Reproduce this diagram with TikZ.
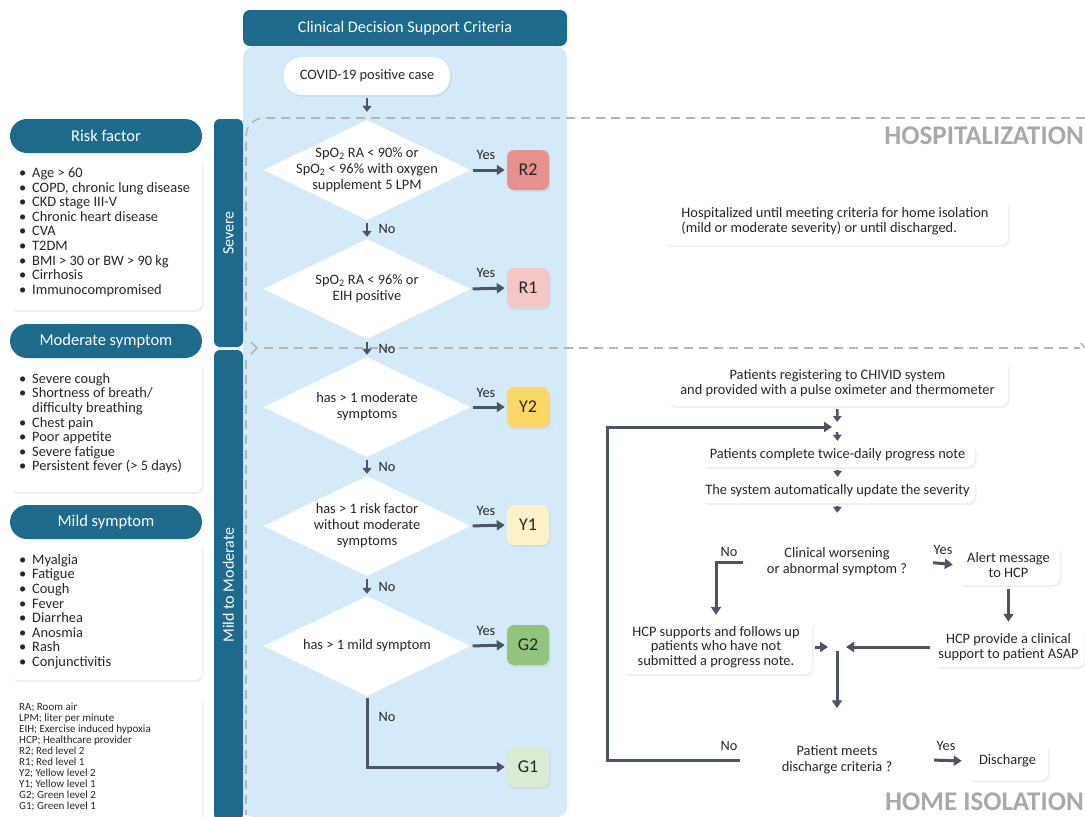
\documentclass[tikz,border=0pt]{standalone}
\usepackage{fontspec}
\setmainfont{Carlito}
\usetikzlibrary{arrows.meta,shapes.geometric,shadows,calc}
\definecolor{hdr}{HTML}{1D6A8D}
\definecolor{panel}{HTML}{D5EAF9}
\definecolor{arr}{HTML}{4B5563}
\definecolor{txt}{HTML}{262626}
\definecolor{dgray}{HTML}{A9A9A9}
\definecolor{dline}{HTML}{B5B5B5}
\definecolor{rtwo}{HTML}{E8908E}
\definecolor{rone}{HTML}{F4C7C6}
\definecolor{ytwo}{HTML}{FDD766}
\definecolor{yone}{HTML}{FEF1C9}
\definecolor{gtwo}{HTML}{92C47E}
\definecolor{gone}{HTML}{DAEAD3}
\newcommand{\bl}{\makebox[13pt][l]{\textbullet}}
\newcommand{\bi}{\makebox[13pt][l]{}}
\begin{document}
\begin{tikzpicture}[x=1pt,y=-1pt,
  font=\fontsize{14.4}{14.6}\selectfont, text=txt,
  shad/.style={drop shadow={opacity=0.13,shadow xshift=1.5pt,shadow yshift=-2pt}},
  wbox/.style={fill=white, rounded corners=8pt, shad, align=center, inner sep=0pt},
  pill/.style={fill=hdr, rounded corners=17pt, text=white, font=\fontsize{16.5}{19}\selectfont, minimum width=192pt, minimum height=34pt, inner sep=0pt},
  bar/.style={fill=hdr, rounded corners=6pt, minimum width=29pt, inner sep=0pt},
  bartxt/.style={rotate=90, text=white, font=\fontsize{16}{19}\selectfont},
  lvl/.style={rounded corners=7pt, shad, minimum width=42pt, minimum height=40pt, inner sep=0pt, font=\fontsize{18}{21}\selectfont},
  dia/.style={diamond, fill=white, minimum width=207pt, minimum height=100pt, inner sep=0pt},
  diatxt/.style={align=center, font=\fontsize{14.4}{16}\selectfont},
  flow/.style={draw=arr, line width=3pt, -{Triangle[length=8pt,width=10pt]}},
  sarr/.style={draw=arr, line width=2.6pt, -{Triangle[length=6pt,width=9pt]}},
  tarr/.style={draw=arr, line width=2.5pt, -{Triangle[length=6pt,width=8.5pt]}},
  lbl/.style={font=\fontsize{14.3}{16}\selectfont},
  dashln/.style={draw=dline, line width=1.6pt, dash pattern=on 9pt off 6pt},
  big/.style={text=dgray, font=\bfseries\fontsize{27}{32}\selectfont, anchor=east, inner sep=0pt}
]
\useasboundingbox (0,0) rectangle (1085,817);
\fill[white] (0,0) rectangle (1085,817);

% ---------- central panel ----------
\node[fill=panel, rounded corners=10pt, minimum width=324pt, minimum height=770pt, inner sep=0pt] (pnl) at (405,432) {};
\node[fill=hdr, rounded corners=7pt, minimum width=324pt, minimum height=36pt, inner sep=0pt, text=white, font=\fontsize{16.2}{19}\selectfont] (title) at (405,28) {Clinical Decision Support Criteria};

% ---------- dashed region outlines ----------
\draw[dashln] (1085,118) -- (264,118) to[out=180,in=90] (246,136) -- (246,336);
\draw[dashln] (246,360) -- (246,815);
\draw[draw=dline, line width=1.6pt] (251,342) -- (257,348) -- (251,354);
\draw[dashln] (264,348) -- (1080,348);
\draw[draw=dline, line width=1.6pt] (1081,343) -- (1085,348);

% ---------- side bars ----------
\node[bar, minimum height=228pt] (sev) at (228.5,233) {};
\node[bartxt] at (sev) {Severe};
\node[bar, minimum height=470pt] (mtm) at (228.5,585) {};
\node[bartxt] at (mtm) {Mild to Moderate};

% ---------- left column ----------
\node[pill] (rf) at (106,136) {Risk factor};
\node[wbox, minimum width=192pt, minimum height=154pt, anchor=north west] (rfl) at (10,156) {};
\node[anchor=north west, align=left, inner sep=0pt] at (19,167.5) {\bl Age > 60\\ \bl COPD, chronic lung disease\\ \bl CKD stage III-V\\ \bl Chronic heart disease\\ \bl CVA\\ \bl T2DM\\ \bl BMI > 30 or BW > 90 kg\\ \bl Cirrhosis\\ \bl Immunocompromised};

\node[pill] (ms) at (106,341) {Moderate symptom};
\node[wbox, minimum width=192pt, minimum height=132pt, anchor=north west] (msl) at (10,360) {};
\node[anchor=north west, align=left, inner sep=0pt] at (19,373) {\bl Severe cough\\ \bl Shortness of breath/\\ \bi difficulty breathing\\ \bl Chest pain\\ \bl Poor appetite\\ \bl Severe fatigue\\ \bl Persistent fever (> 5 days)};

\node[pill] (mi) at (106,522) {Mild symptom};
\node[wbox, minimum width=192pt, minimum height=138pt, anchor=north west] (mil) at (10,542) {};
\node[anchor=north west, align=left, inner sep=0pt] at (19,554) {\bl Myalgia\\ \bl Fatigue\\ \bl Cough\\ \bl Fever\\ \bl Diarrhea\\ \bl Anosmia\\ \bl Rash\\ \bl Conjunctivitis};

\node[wbox, minimum width=192pt, minimum height=130pt, anchor=north west] (leg) at (10,694) {};
\node[anchor=north west, align=left, inner sep=0pt, font=\fontsize{11}{11}\selectfont] at (19,703) {RA; Room air\\ LPM; liter per minute\\ EIH; Exercise induced hypoxia\\ HCP; Healthcare provider\\ R2; Red level 2\\ R1; Red level 1\\ Y2; Yellow level 2\\ Y1; Yellow level 1\\ G2; Green level 2\\ G1; Green level 1};

% ---------- decision column ----------
\node[wbox, rounded corners=18pt, minimum width=166pt, minimum height=38pt] (covid) at (367,76) {COVID-19 positive case};

\node[dia] (d1) at (367,170) {};
\node[diatxt] at (d1) {SpO\textsubscript{2} RA < 90\% or\\ SpO\textsubscript{2} < 96\% with oxygen\\ supplement 5 LPM};
\node[dia] (d2) at (367,289) {};
\node[diatxt] at (d2) {SpO\textsubscript{2} RA < 96\% or\\ EIH positive};
\node[dia] (d3) at (367,407) {};
\node[diatxt] at (d3) {has > 1 moderate\\ symptoms};
\node[dia] (d4) at (367,526) {};
\node[diatxt] at (d4) {has > 1 risk factor\\ without moderate\\ symptoms};
\node[dia] (d5) at (367,646) {};
\node[diatxt] at (d5) {has > 1 mild symptom};

\node[lvl, fill=rtwo] (r2) at (528,170) {R2};
\node[lvl, fill=rone] (r1) at (528,288) {R1};
\node[lvl, fill=ytwo] (y2) at (528,407) {Y2};
\node[lvl, fill=yone] (y1) at (528,525) {Y1};
\node[lvl, fill=gtwo] (g2) at (528,645) {G2};
\node[lvl, fill=gone] (g1) at (528,767) {G1};

\draw[sarr, shorten <=3pt, shorten >=8pt] (covid.south) -- (d1.north);
\draw[sarr, shorten <=3pt, shorten >=2pt] (d1.south) -- (d2.north);
\draw[sarr, shorten <=3pt, shorten >=2pt] (d2.south) -- (d3.north);
\draw[sarr, shorten <=3pt, shorten >=2pt] (d3.south) -- (d4.north);
\draw[sarr, shorten <=3pt, shorten >=2pt] (d4.south) -- (d5.north);
\node[lbl, anchor=west] at (375,229) {No};
\node[lbl, anchor=west] at (375,349) {No};
\node[lbl, anchor=west] at (375,467) {No};
\node[lbl, anchor=west] at (375,587) {No};
\node[lbl, anchor=west] at (375,717) {No};

\draw[flow, shorten <=2pt, shorten >=2pt] (d1.east) -- (r2.west);
\draw[flow, shorten <=2pt, shorten >=2pt] (d2.east) -- (r1.west);
\draw[flow, shorten <=2pt, shorten >=2pt] (d3.east) -- (y2.west);
\draw[flow, shorten <=2pt, shorten >=2pt] (d4.east) -- (y1.west);
\draw[flow, shorten <=2pt, shorten >=2pt] (d5.east) -- (g2.west);
\draw[flow, shorten <=2pt, shorten >=2pt] (d5.south) |- (g1.west);
\node[lbl] at (486,155) {Yes};
\node[lbl] at (486,273) {Yes};
\node[lbl] at (486,393) {Yes};
\node[lbl] at (486,511) {Yes};
\node[lbl] at (486,631) {Yes};

% ---------- hospitalization ----------
\node[big] at (1084,136) {HOSPITALIZATION};
\node[wbox, minimum width=346pt, minimum height=48pt] (hosp) at (835,221) {};
\node[align=left, inner sep=0pt] at (hosp) {Hospitalized until meeting criteria for home isolation\\ (mild or moderate severity) or until discharged.};

% ---------- home isolation ----------
\node[wbox, minimum width=341pt, minimum height=46pt] (reg) at (837.5,383) {Patients registering to CHIVID system\\ and provided with a pulse oximeter and thermometer};
\coordinate (j1) at (837,427);
\node[wbox, minimum width=275pt, minimum height=24pt] (prog) at (837.5,455) {Patients complete twice-daily progress note};
\node[wbox, minimum width=275pt, minimum height=24pt] (sys) at (837.5,491) {The system automatically update the severity};
\node[diamond, fill=white, minimum width=178pt, minimum height=92pt, inner sep=0pt] (d6) at (837,562) {};
\node[diatxt] at (d6) {Clinical worsening\\ or abnormal symptom ?};
\node[wbox, minimum width=103pt, minimum height=40pt] (alert) at (1008.5,565) {Alert message\\ to HCP};
\node[wbox, minimum width=152pt, minimum height=40pt] (hcpp) at (1008.5,647) {HCP provide a clinical\\ support to patient ASAP};
\node[wbox, minimum width=192pt, minimum height=54pt] (hcps) at (716,647) {HCP supports and follows up\\ patients who have not\\ submitted a progress note.};
\coordinate (j2) at (837,647);
\node[diamond, fill=white, minimum width=184pt, minimum height=95pt, inner sep=0pt] (d7) at (837,760) {};
\node[diatxt] at (d7) {Patient meets\\ discharge criteria ?};
\node[wbox, minimum width=81pt, minimum height=39pt] (dis) at (1007.5,761) {Discharge};
\coordinate (lc) at (607,760);

\draw[tarr, shorten <=3pt, shorten >=5pt] (reg.south) -- (j1);
\draw[tarr, shorten <=5pt, shorten >=2pt] (j1) -- (prog.north);
\draw[tarr, shorten <=3pt, shorten >=2pt] (prog.south) -- (sys.north);
\draw[tarr, shorten <=3pt, shorten >=3pt] (sys.south) -- (d6.north);
\draw[flow, shorten <=7pt, shorten >=4pt] (d6.east) -- (alert.west);
\draw[flow, shorten <=5pt, shorten >=5pt] (d6.west) -| (hcps.north);
\draw[flow, shorten <=4pt, shorten >=5pt] (alert.south) -- (hcpp.north);
\draw[flow, shorten <=2pt, shorten >=9pt] (hcpp.west) -- (j2);
\draw[flow, shorten <=3pt, shorten >=9pt] (hcps.east) -- (j2);
\draw[flow, shorten <=4pt, shorten >=4pt] (j2) -- (d7.north);
\draw[flow, shorten <=5pt, shorten >=5pt] (d7.west) -- (lc) |- (j1);
\draw[flow, shorten <=5pt, shorten >=5pt] (d7.east) -- (dis.west);
\node[lbl] at (729,552) {No};
\node[lbl] at (943,550) {Yes};
\node[lbl] at (729,746) {No};
\node[lbl] at (946,746) {Yes};
\node[big] at (1084,802) {HOME ISOLATION};
\end{tikzpicture}
\end{document}
